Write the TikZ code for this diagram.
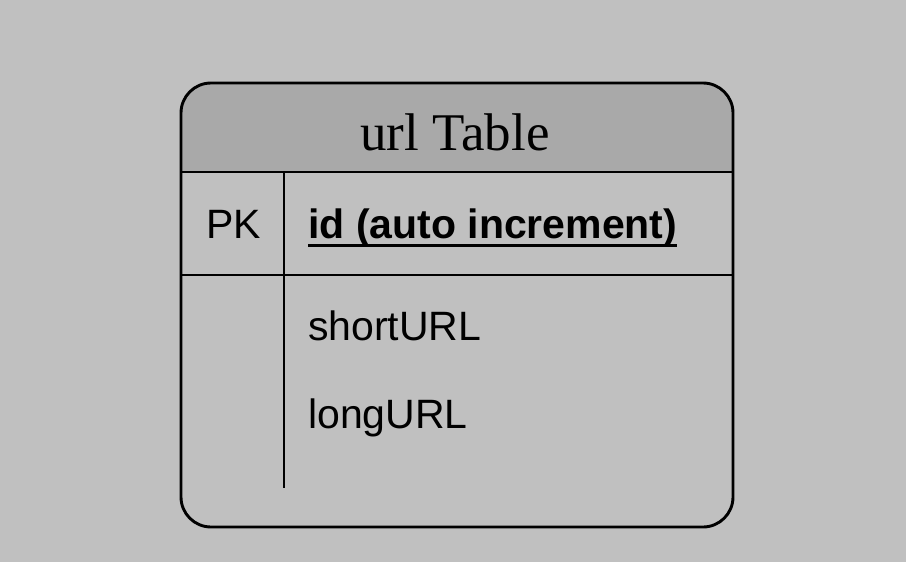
\documentclass[tikz,border=0pt]{standalone}
\usepackage{fontspec}
\setmainfont{Liberation Sans}
\newfontfamily\titlefont{Liberation Serif}
\usetikzlibrary{positioning}
\definecolor{bggray}{RGB}{192,192,192}
\definecolor{headgray}{RGB}{169,169,169}
\tikzset{
  tablebox/.style={draw,line width=2.9pt,rounded corners=30pt,minimum width=552pt,minimum height=444pt,inner sep=0pt},
  rowline/.style={line width=2.9pt},
  field/.style={inner sep=0pt,anchor=base west,font=\fontsize{41}{49}\selectfont},
}
\begin{document}
\begin{tikzpicture}[x=1pt,y=-1pt]
  \fill[bggray] (0,0) rectangle (906,562);
  \useasboundingbox (0,0) rectangle (906,562);
  % header band
  \fill[headgray] (181,172) [rounded corners=30pt] -- (181,83) -- (733,83) [sharp corners] -- (733,172) -- cycle;
  \node[tablebox](tbl) at (457,305) {};
  \coordinate (hl) at (181,172);
  \coordinate (hr) at (733,172);
  \coordinate (pl) at (181,275);
  \coordinate (pr) at (733,275);
  \coordinate (dtop) at (284,172);
  \coordinate (dbot) at (284,488);
  \draw[rowline] (hl)--(hr);
  \draw[rowline] (pl)--(pr);
  \draw[rowline] (dtop)--(dbot);
  \node[inner sep=0pt,anchor=base,font=\titlefont\fontsize{53}{62}\selectfont](title) at (455,150) {url Table};
  \node[field](pk) at (206,238) {PK};
  \node[field,font=\bfseries\fontsize{41}{49}\selectfont](idf) at (308,238) {id (auto increment)};
  \node[field](short) at (308,340) {shortURL};
  \node[field](long) at (308,428) {longURL};
  \draw[line width=2.5pt] ([yshift=-7.5pt]idf.base west)--([yshift=-7.5pt]idf.base east);
\end{tikzpicture}
\end{document}
